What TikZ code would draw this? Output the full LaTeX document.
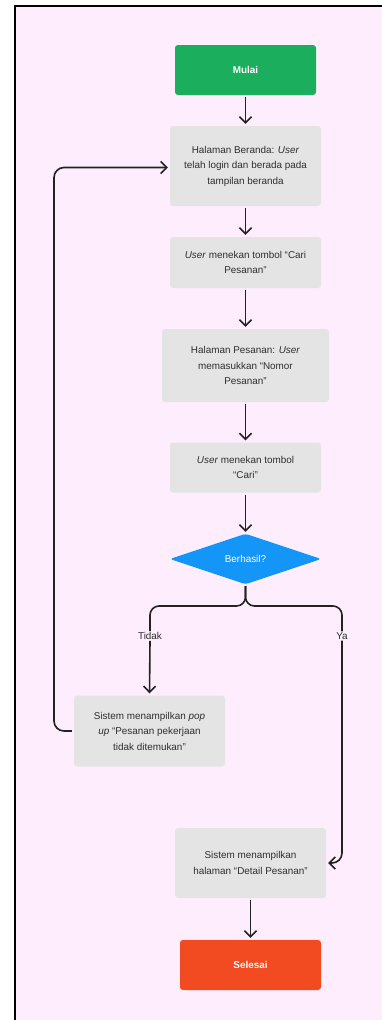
\documentclass[tikz,border=0pt]{standalone}
\usepackage{fontspec}
\setmainfont{Liberation Sans}
\usetikzlibrary{arrows.meta}
\definecolor{pagebg}{HTML}{FDEDFD}
\definecolor{stepgray}{HTML}{E4E4E4}
\definecolor{startgreen}{HTML}{1BAF5D}
\definecolor{decblue}{HTML}{1396F8}
\definecolor{endred}{HTML}{F24A21}
\definecolor{ink}{HTML}{2E2E2E}
\definecolor{linecol}{HTML}{222222}
\tikzset{
  every node/.style={font=\fontsize{9.9}{15.5}\selectfont, text=ink},
  stepbox/.style={fill=stepgray, rounded corners=3pt, align=center, inner sep=0pt,
                  minimum width=151pt},
  termbox/.style={rounded corners=3pt, align=center, inner sep=0pt,
                  minimum width=141pt, minimum height=50pt,
                  text=white, font=\fontsize{9.9}{12}\selectfont\bfseries},
  arr/.style={draw=linecol, line width=1.6pt,
              -{Straight Barb[length=6pt,width=12pt,line width=1.6pt]},
              shorten <=2pt, shorten >=2pt},
  link/.style={draw=linecol, line width=1.6pt},
  lbl/.style={inner sep=1pt, font=\fontsize{9.9}{12}\selectfont}
}
\begin{document}
\begin{tikzpicture}[x=1pt,y=-1pt]
\useasboundingbox (0,0) rectangle (382,1020);
% page frame
\fill[pagebg] (14.5,5.5) rectangle (382,1020);
\draw[black, line width=2pt] (14.5,1020) -- (14.5,5.5) -- (382,5.5);

% nodes
\node[termbox, fill=startgreen] (start) at (245.5,70) {Mulai};
\node[stepbox, minimum height=80pt] (home) at (245.5,166)
  {Halaman Beranda: \textit{User}\\ telah login dan berada pada\\ tampilan beranda};
\node[stepbox, minimum height=51pt] (press1) at (245.5,262.5)
  {\textit{User} menekan tombol “Cari\\ Pesanan”};
\node[stepbox, minimum width=167pt, minimum height=73pt] (order) at (245.5,365.5)
  {Halaman Pesanan: \textit{User}\\ memasukkan “Nomor\\ Pesanan”};
\node[stepbox, minimum height=50pt] (press2) at (245.5,467.5)
  {\textit{User} menekan tombol\\ “Cari”};
\node[minimum width=151pt, minimum height=50pt, inner sep=0pt] (dec) at (245.5,559) {};
\fill[decblue, rounded corners=3pt] (dec.west) -- (dec.north) -- (dec.east) -- (dec.south) -- cycle;
\node[text=white] (declbl) at (dec.center) {Berhasil?};
\node[stepbox, minimum height=71pt] (notfound) at (149.5,731)
  {Sistem menampilkan \textit{pop}\\ \textit{up} “Pesanan pekerjaan\\ tidak ditemukan”};
\node[stepbox, minimum height=70pt] (detail) at (250.5,863)
  {Sistem menampilkan\\ halaman “Detail Pesanan”};
\node[termbox, fill=endred] (finish) at (250.5,965) {Selesai};

% branch labels
\node[lbl] (no) at (150,636) {Tidak};
\node[lbl] (yes) at (342,636) {Ya};
\coordinate (split) at (245.5,606);
\coordinate (loopc) at (54,167.5);

% connectors
\draw[arr] (start) -- (home);
\draw[arr] (home) -- (press1);
\draw[arr] (press1) -- (order);
\draw[arr] (order) -- (press2);
\draw[arr] (press2) -- (dec);
\draw[link, rounded corners=9pt, shorten <=2pt] (dec.south) -- (split) -| (no.north);
\draw[link, rounded corners=9pt, shorten <=2pt] (dec.south) -- (split) -| (yes.north);
\draw[arr, shorten <=0pt] (no.south) -- (notfound.north);
\draw[arr, rounded corners=10pt, shorten <=0pt] (yes.south) |- (detail.east);
\draw[arr, rounded corners=10pt] (notfound.west) -| (loopc) -- (loopc -| home.west);
\draw[arr] (detail) -- (finish);
\end{tikzpicture}
\end{document}
